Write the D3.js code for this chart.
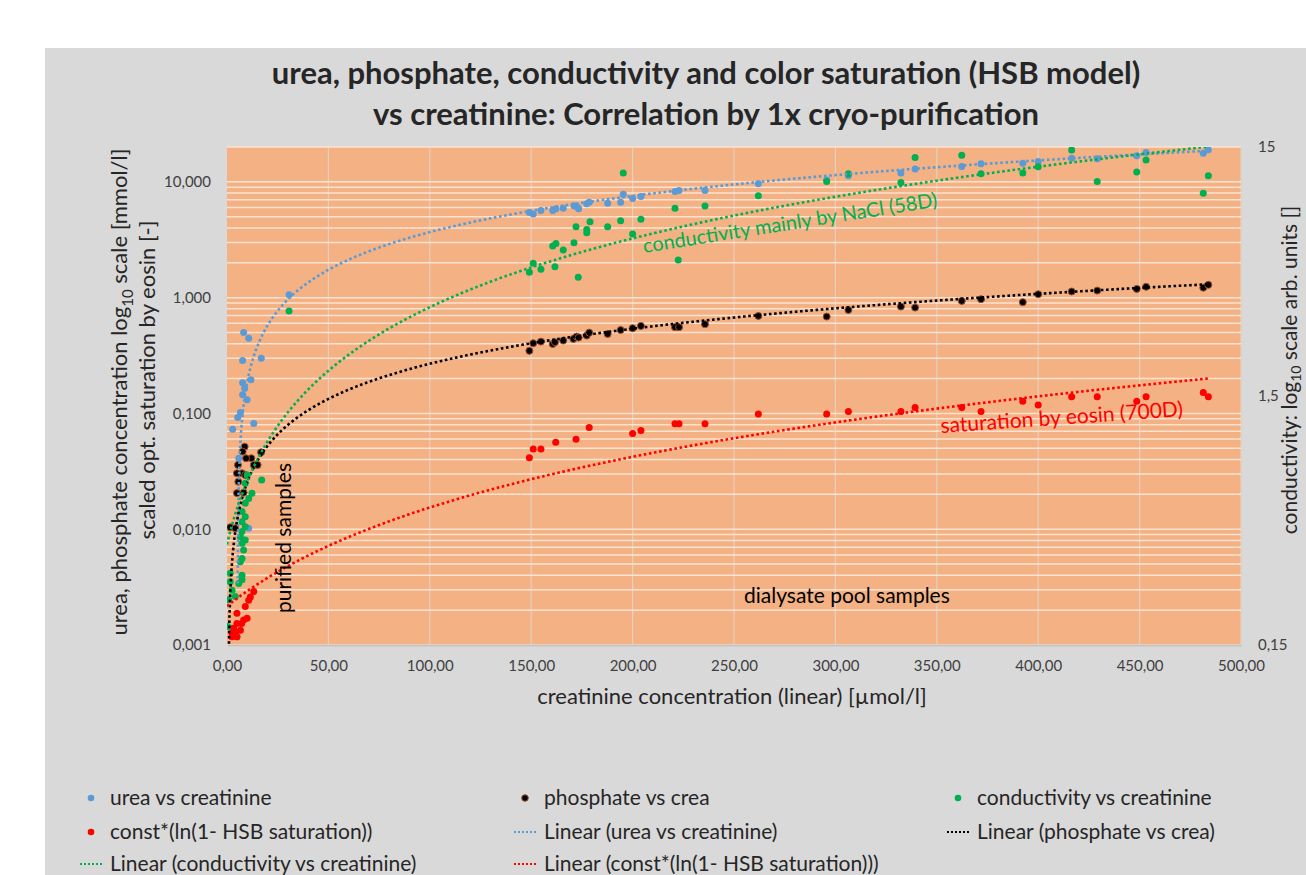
<!DOCTYPE html>
<html>
<head>
<meta charset="utf-8">
<script src="https://cdn.jsdelivr.net/npm/d3@7"></script>
<style>
  body { margin: 0; background: #fff; }
  text { font-family: Lato, "Open Sans", sans-serif; }
</style>
</head>
<body>
<div id="chart-area"></div>
<script>
// data (creatinine in µmol/l)
let ureaCrea = [30.6, 8.2, 10.7, 7.7, 16.9, 11.8, 7.7, 8.7, 7.7, 9.9, 6.6, 5.3, 13.2, 2.8, 5.8, 10.7,
  149.1, 151.0, 154.8, 160.6, 162.2, 165.8, 171.1, 172.4, 173.4, 177.4, 178.6, 187.7, 194.1, 195.4, 200.0, 204.1, 220.9, 222.9, 235.7, 262.0,
  295.7, 306.4, 332.3, 339.3, 362.3, 371.8, 392.4, 400.0, 416.5, 429.1, 448.6, 453.2, 481.4, 483.9];
let ureaVal = [1.06, 0.50, 0.447, 0.286, 0.30, 0.195, 0.184, 0.165, 0.145, 0.131, 0.102, 0.092, 0.082, 0.073, 0.041, 0.0102,
  5.43, 5.29, 5.65, 5.65, 5.85, 5.93, 6.21, 6.12, 5.85, 6.46, 6.68, 6.55, 6.68, 7.83, 7.18, 7.46, 8.24, 8.41, 8.41, 9.61,
  10.4, 11.3, 11.9, 12.9, 13.6, 14.3, 14.5, 15.0, 16.0, 15.8, 16.8, 17.9, 17.7, 18.9];

let phosCrea = [8.7, 7.7, 12.0, 9.4, 5.4, 13.2, 7.4, 4.9, 9.0, 4.9, 8.2, 1.6, 4.1, 16.8, 15.1, 5.6,
  149.1, 151.0, 154.8, 160.6, 161.7, 165.8, 170.8, 172.4, 173.4, 177.4, 178.6, 187.7, 194.1, 200.0, 204.1, 220.9, 222.9, 235.7, 262.0, 295.7,
  306.4, 332.3, 339.3, 362.3, 371.8, 392.4, 400.0, 416.5, 429.1, 448.6, 453.2, 481.4, 483.9];
let phosVal = [0.0516, 0.0468, 0.041, 0.041, 0.0359, 0.0359, 0.0304, 0.0304, 0.0294, 0.0205, 0.0207, 0.0104, 0.0102, 0.0462, 0.0359, 0.0257,
  0.347, 0.404, 0.417, 0.398, 0.412, 0.426, 0.440, 0.461, 0.452, 0.470, 0.499, 0.486, 0.526, 0.545, 0.570, 0.556, 0.556, 0.590, 0.695, 0.686,
  0.783, 0.837, 0.820, 0.937, 0.970, 0.914, 1.07, 1.13, 1.15, 1.19, 1.24, 1.22, 1.29];

// conductivity + saturation sit on the secondary (right) axis
let condCrea = [30.6, 17.1, 9.9, 9.0, 12.3, 10.7, 9.0, 7.4, 9.0, 7.4, 9.0, 7.4, 6.6, 9.0, 7.4, 8.2, 7.4, 6.6, 1.6, 7.4,
  1.6, 5.8, 7.4, 2.5, 0.8, 4.1, 0.3, 2.5, 4.9,
  149.1, 151.0, 154.8, 161.7, 160.6, 162.2, 165.8, 171.1, 172.1, 173.2, 177.4, 177.4, 179.0, 187.7, 194.1, 195.4, 200.0, 204.1, 220.9, 222.5,
  235.7, 262.0, 295.7, 306.4, 332.3, 339.3, 362.3, 371.8, 392.4, 400.0, 416.5, 429.1, 448.6, 453.2, 481.4, 483.9];
let condVal = [3.29, 0.690, 0.723, 0.669, 0.610, 0.582, 0.556, 0.515, 0.491, 0.469, 0.448, 0.428, 0.408, 0.396, 0.384, 0.361, 0.334, 0.324, 0.291, 0.286,
  0.269, 0.265, 0.274, 0.249, 0.228, 0.235, 0.178, 0.175, 0.162,
  4.71, 5.12, 4.84, 4.96, 6.0, 6.15, 5.79, 6.19, 7.18, 4.50, 7.0, 6.79, 7.52, 7.18, 7.59, 11.8, 6.71, 7.69, 8.51, 5.27,
  8.69, 9.56, 10.9, 11.7, 10.8, 13.6, 13.9, 11.7, 11.8, 12.5, 14.6, 10.9, 11.9, 13.3, 9.78, 11.5];

let satCrea = [13.2, 11.5, 10.7, 9.0, 4.9, 9.9, 8.2, 4.9, 3.3, 6.6, 4.1, 2.5, 4.9, 2.5, 7.2,
  149.1, 151.0, 154.8, 162.1, 172.1, 178.6, 200.0, 204.1, 220.9, 222.9, 235.7, 262.0, 295.7, 306.4, 332.3, 339.3,
  362.3, 371.8, 392.4, 400.0, 416.5, 429.1, 448.6, 453.2, 481.4, 483.9];
let satVal = [0.246, 0.234, 0.227, 0.214, 0.201, 0.192, 0.189, 0.183, 0.175, 0.172, 0.167, 0.162, 0.162, 0.167, 0.183,
  0.848, 0.919, 0.919, 0.978, 1.005, 1.12, 1.06, 1.09, 1.16, 1.16, 1.16, 1.27, 1.27, 1.30, 1.30, 1.35,
  1.35, 1.30, 1.43, 1.38, 1.49, 1.49, 1.43, 1.49, 1.55, 1.49];

// linear trendlines as shown: [intercept, slope]
let ureaTrend = [-0.2, 0.0388];
let phosTrend = [-0.0015, 0.0027];
let condTrend = [0.38, 0.0303];
let satTrend = [0.215, 0.0032];

let xTicks = [0, 50, 100, 150, 200, 250, 300, 350, 400, 450, 500];
let yLeftTicks = [0.001, 0.01, 0.1, 1, 10];
let yRightTicks = [0.15, 1.5, 15];

let titleLines = ["urea, phosphate, conductivity and color saturation (HSB model)",
  "vs creatinine: Correlation by 1x cryo-purification"];

let series = [
  {name: "urea vs creatinine", xs: ureaCrea, ys: ureaVal, trend: ureaTrend, color: "#5b9bd5", axis: "L"},
  {name: "phosphate vs crea", xs: phosCrea, ys: phosVal, trend: phosTrend, color: "#000", stroke: "#a0522d", axis: "L"},
  {name: "conductivity vs creatinine", xs: condCrea, ys: condVal, trend: condTrend, color: "#00b050", axis: "R"},
  {name: "const*(ln(1- HSB saturation))", xs: satCrea, ys: satVal, trend: satTrend, color: "#ff0000", axis: "R"}
];

let width = 1306, height = 875;
let plot = {left: 227, right: 1241, top: 147, bottom: 645};

let svg = d3.select("#chart-area").append("svg")
  .attr("width", width)
  .attr("height", height);

svg.append("rect").attr("x", 45).attr("y", 48)
  .attr("width", width - 45).attr("height", height - 48)
  .attr("fill", "#d9d9d9");

// scales
let x = d3.scaleLinear().domain([0, 500]).range([plot.left, plot.right]);
let yL = d3.scaleLog().domain([0.001, 20]).range([plot.bottom, plot.top]);
let yR = d3.scaleLog().domain([0.15, 15]).range([plot.bottom, plot.top]);

svg.append("rect")
  .attr("x", plot.left).attr("y", plot.top)
  .attr("width", plot.right - plot.left).attr("height", plot.bottom - plot.top)
  .attr("fill", "#f4b183");

svg.append("clipPath").attr("id", "clip")
  .append("rect")
  .attr("x", plot.left).attr("y", plot.top)
  .attr("width", plot.right - plot.left).attr("height", plot.bottom - plot.top);

// gridlines
let vGrid = svg.append("g");
vGrid.selectAll("line").data(xTicks.slice(1)).enter().append("line")
  .attr("x1", d => x(d)).attr("x2", d => x(d))
  .attr("y1", plot.top).attr("y2", plot.bottom)
  .attr("stroke", "#e3d0c0").attr("stroke-width", 1.2);

let minor = [];
for (let e = -3; e <= 1; e++) {
  for (let k = 1; k <= 9; k++) {
    let v = k * Math.pow(10, e);
    if (v <= 20) minor.push(v);
  }
}
let hGrid = svg.append("g");
hGrid.selectAll("line").data(minor).enter().append("line")
  .attr("x1", plot.left).attr("x2", plot.right)
  .attr("y1", d => yL(d)).attr("y2", d => yL(d))
  .attr("stroke", "#fbe3d2").attr("stroke-width", 1.5);

// axes
let tickFont = 15;
let xAxis = d3.axisBottom(x).tickValues(xTicks).tickSize(0).tickPadding(15)
  .tickFormat(d => d.toFixed(2).replace(".", ","));
let yAxisL = d3.axisLeft(yL).tickValues(yLeftTicks).tickSize(0).tickPadding(16)
  .tickFormat(d => d.toFixed(3).replace(".", ","));
let yAxisR = d3.axisRight(yR).tickValues(yRightTicks).tickSize(0).tickPadding(17)
  .tickFormat(d => String(d).replace(".", ","));

let xg = svg.append("g").attr("transform", "translate(0," + plot.bottom + ")").call(xAxis);
let ylg = svg.append("g").attr("transform", "translate(" + plot.left + ",0)").call(yAxisL);
let yrg = svg.append("g").attr("transform", "translate(" + plot.right + ",0)").call(yAxisR);
[xg, ylg, yrg].forEach(g => {
  g.selectAll("text").attr("font-size", tickFont).attr("fill", "#404040")
    .attr("font-family", "Lato, sans-serif");
});
xg.select(".domain").attr("stroke", "#bfbfbf").attr("stroke-width", 1.5);
ylg.select(".domain").remove();
yrg.select(".domain").remove();

// points
let pts = svg.append("g").attr("clip-path", "url(#clip)");
series.forEach(s => {
  let yy = s.axis === "L" ? yL : yR;
  pts.append("g").selectAll("circle")
    .data(s.xs.map((v, i) => ({x: v, y: s.ys[i]})))
    .enter().append("circle")
    .attr("cx", d => x(d.x))
    .attr("cy", d => yy(d.y))
    .attr("r", 3.5)
    .attr("fill", s.color)
    .attr("stroke", s.stroke || "none")
    .attr("stroke-width", s.stroke ? 1 : 0);
});

// linear trendlines, curved by the log axes
let trends = svg.append("g").attr("clip-path", "url(#clip)");
series.forEach(s => {
  let yy = s.axis === "L" ? yL : yR;
  let lo = yy.domain()[0] * 0.5;
  let x0 = 0, x1 = d3.max(s.xs);
  let samples = d3.range(0, 1201).map(i => {
    let xv = x0 + (x1 - x0) * i / 1200;
    return {x: xv, y: s.trend[0] + s.trend[1] * xv};
  }).filter(d => d.y > lo);
  let line = d3.line()
    .x(d => x(d.x))
    .y(d => yy(d.y));
  trends.append("path")
    .attr("d", line(samples))
    .attr("fill", "none")
    .attr("stroke", s.color)
    .attr("stroke-width", 2.6)
    .attr("stroke-dasharray", "2.6,2.6");
});

// titles
svg.append("g").selectAll("text").data(titleLines).enter().append("text")
  .attr("x", 706).attr("y", (d, i) => 84 + i * 41)
  .attr("text-anchor", "middle")
  .attr("font-size", 31).attr("font-weight", "bold").attr("fill", "#262626")
  .text(d => d);

let axisFont = 22;
svg.append("text")
  .attr("x", 732).attr("y", 704)
  .attr("text-anchor", "middle").attr("font-size", axisFont).attr("fill", "#262626")
  .text("creatinine concentration (linear) [µmol/l]");

let yTitle1 = svg.append("text")
  .attr("transform", "translate(127,392) rotate(-90)")
  .attr("text-anchor", "middle").attr("font-size", axisFont).attr("fill", "#262626");
yTitle1.append("tspan").text("urea, phosphate concentration log");
yTitle1.append("tspan").attr("font-size", 15).attr("dy", 6).text("10");
yTitle1.append("tspan").attr("dy", -6).text(" scale [mmol/l]");

svg.append("text")
  .attr("transform", "translate(155,380) rotate(-90)")
  .attr("text-anchor", "middle").attr("font-size", axisFont).attr("fill", "#262626")
  .text("scaled opt. saturation by eosin [-]");

let yTitleR = svg.append("text")
  .attr("transform", "translate(1297,370) rotate(-90)")
  .attr("text-anchor", "middle").attr("font-size", 21).attr("fill", "#262626");
yTitleR.append("tspan").text("conductivity: log");
yTitleR.append("tspan").attr("font-size", 14).attr("dy", 4).text("10");
yTitleR.append("tspan").attr("dy", -4).text(" scale arb. units []");

// annotations
svg.append("text")
  .attr("transform", "translate(644,253) rotate(-9)")
  .attr("font-size", 20).attr("fill", "#00b050")
  .text("conductivity mainly by NaCl (58D)");
svg.append("text")
  .attr("transform", "translate(941,433) rotate(-4)")
  .attr("font-size", 21).attr("fill", "#ff0000")
  .text("saturation by eosin (700D)");
svg.append("text")
  .attr("transform", "translate(291,538) rotate(-90)")
  .attr("text-anchor", "middle")
  .attr("font-size", 21).attr("fill", "#000")
  .text("purified samples");
svg.append("text")
  .attr("x", 744).attr("y", 603)
  .attr("font-size", 21).attr("fill", "#000")
  .text("dialysate pool samples");

// legend
let legendItems = [
  {label: "urea vs creatinine", color: "#5b9bd5", type: "dot", col: 0, row: 0},
  {label: "phosphate vs crea", color: "#000", stroke: "#a0522d", type: "dot", col: 1, row: 0},
  {label: "conductivity vs creatinine", color: "#00b050", type: "dot", col: 2, row: 0},
  {label: "const*(ln(1- HSB saturation))", color: "#ff0000", type: "dot", col: 0, row: 1},
  {label: "Linear (urea vs creatinine)", color: "#5b9bd5", type: "line", col: 1, row: 1},
  {label: "Linear (phosphate vs crea)", color: "#000", type: "line", col: 2, row: 1},
  {label: "Linear (conductivity vs creatinine)", color: "#00b050", type: "line", col: 0, row: 2},
  {label: "Linear (const*(ln(1- HSB saturation)))", color: "#ff0000", type: "line", col: 1, row: 2}
];
let colX = [110, 544, 977];
let rowY = [798, 832, 864];

let legend = svg.append("g");
let li = legend.selectAll("g").data(legendItems).enter().append("g")
  .attr("transform", d => "translate(" + colX[d.col] + "," + rowY[d.row] + ")");
li.filter(d => d.type === "dot").append("circle")
  .attr("cx", -19).attr("cy", 0).attr("r", 3.3)
  .attr("fill", d => d.color)
  .attr("stroke", d => d.stroke || "none").attr("stroke-width", 1);
li.filter(d => d.type === "line").append("line")
  .attr("x1", -30).attr("x2", -8).attr("y1", 0).attr("y2", 0)
  .attr("stroke", d => d.color).attr("stroke-width", 2)
  .attr("stroke-dasharray", "2,2");
li.append("text")
  .attr("x", 0).attr("y", 0).attr("dy", "0.35em")
  .attr("font-size", 21).attr("fill", "#262626")
  .text(d => d.label);
</script>
</body>
</html>
